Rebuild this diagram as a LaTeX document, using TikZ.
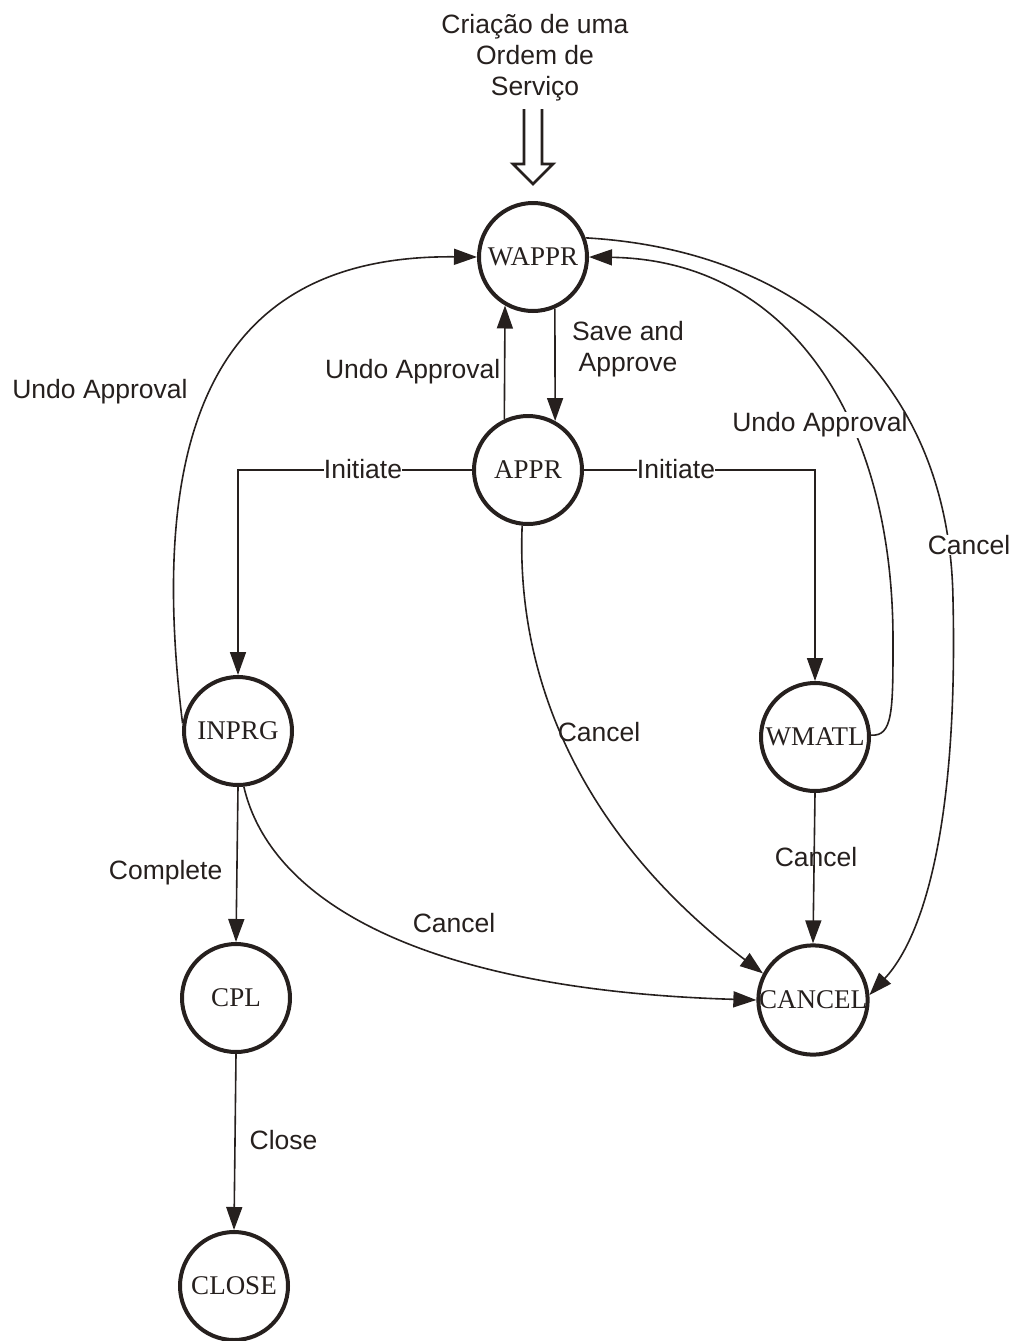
\documentclass[tikz,border=0pt]{standalone}
\usepackage{fontspec}
\setmainfont{Liberation Serif}
\newfontfamily\labelfont{Liberation Sans}
\usetikzlibrary{arrows.meta,calc}
\definecolor{ink}{RGB}{38,32,30}
\begin{document}
\begin{tikzpicture}[x=1pt,y=-1pt,
  state/.style={circle, draw=ink, line width=4pt, minimum size=108pt,
    inner sep=0pt, text=ink, font=\fontsize{27}{31}\selectfont},
  lbl/.style={text=ink, font=\labelfont\fontsize{26.5}{31}\selectfont,
    inner sep=0.5pt, align=center},
  masked/.style={fill=white},
  trans/.style={draw=ink, line width=1.6pt, -{Triangle[length=23pt,width=16pt]}},
  hollow/.style={draw=ink, line width=2.8pt, line join=miter}]

\useasboundingbox (0,0) rectangle (1013,1341);

% states
\node[state] (wappr)  at (533,257)  {WAPPR};
\node[state] (appr)   at (528,470)  {APPR};
\node[state] (inprg)  at (238,731)  {INPRG};
\node[state] (wmatl)  at (815,737)  {WMATL};
\node[state] (cancel) at (813,1000) {CANCEL};
\node[state] (cpl)    at (236,998)  {CPL};
\node[state] (close)  at (234,1286) {CLOSE};

% entry point: creation of a work order
\node[lbl] (origin) at (535,58) {Criação de uma\\Ordem de\\Serviço};
\coordinate (tip) at ($(wappr.north)+(0,-17)$);
\draw[hollow] ($(tip)+(-9,-75)$) -- ($(tip)+(-9,-20)$) -- ($(tip)+(-20,-20)$)
  -- (tip) -- ($(tip)+(20,-20)$) -- ($(tip)+(9,-20)$) -- ($(tip)+(9,-75)$);

% approval and its undo
\draw[trans] (wappr.-67) -- (appr.61);
\node[lbl] (lsave) at (628,349) {Save and\\Approve};
\draw[trans] (appr.115) -- (wappr.-120);
\node[lbl, anchor=east] (lundo1) at (501,372) {Undo Approval};

% initiate work
\draw[trans] (appr.west) -| (inprg.north);
\node[lbl, masked, inner sep=0pt] (linit1) at (363,469) {Initiate};
\draw[trans] (appr.east) -| (wmatl.north);
\node[lbl, masked, inner sep=0pt] (linit2) at (676,469) {Initiate};

% undo approval from work in progress
\draw[trans] (inprg.172) .. controls (140,380) and (250,255) .. (wappr.west);
\node[lbl] (lundo2) at (100,392) {Undo Approval};

% undo approval from waiting for material
\draw[trans] (wmatl.2) .. controls (893,737) and (893,710) .. (893,640)
  .. controls (893,420) and (790,260) .. (wappr.east);
\node[lbl, masked] (lundo3) at (820,425) {Undo Approval};

% cancellations
\draw[trans] (wappr.20) .. controls (800,250) and (950,380) .. (953,600)
  .. controls (958,820) and (925,935) .. (cancel.5);
\node[lbl, masked] (lcan1) at (969,545) {Cancel};

\draw[trans] (appr.-96) .. controls (515,700) and (600,850) .. (cancel.152);
\node[lbl] (lcan2) at (599,732) {Cancel};

\draw[trans] (wmatl.south) -- (cancel.north);
\node[lbl] (lcan3) at (816,857) {Cancel};

\draw[trans] (inprg.-84) .. controls (270,900) and (420,990) .. (cancel.180);
\node[lbl] (lcan4) at (454,923) {Cancel};

% completion and closing
\draw[trans] (inprg.south) -- (cpl.north);
\node[lbl, anchor=east] (lcomp) at (223,873) {Complete};
\draw[trans] (cpl.south) -- (close.north);
\node[lbl, anchor=west] (lclose) at (249,1140) {Close};

\end{tikzpicture}
\end{document}
